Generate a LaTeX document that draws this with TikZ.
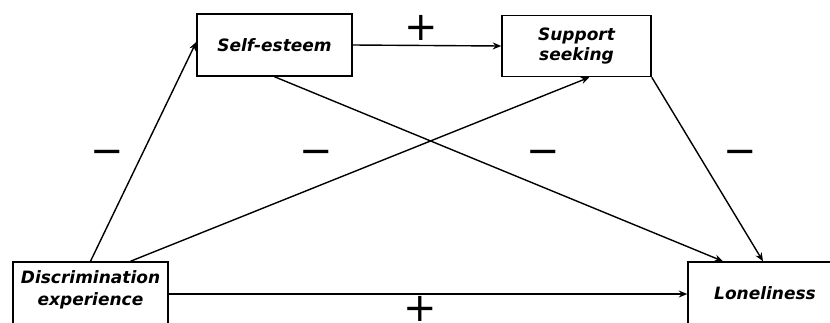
\documentclass[tikz,border=0pt]{standalone}
\usepackage{fontspec}
\setmainfont{DejaVu Sans}
\usetikzlibrary{arrows.meta}
\begin{document}
\begin{tikzpicture}[x=1pt,y=-1pt,
  box/.style={draw,line width=1.5pt,rectangle,inner sep=0pt,align=center,
    font=\fontsize{17}{20}\selectfont\bfseries\itshape},
  lbl/.style={font=\fontsize{17}{22}\selectfont\bfseries\itshape,align=center,inner sep=0pt},
  conn/.style={line width=1.4pt,-{Stealth[length=8.5pt,width=7pt]}},
  sign/.style={font=\fontsize{40}{40}\selectfont,inner sep=0pt}]
\useasboundingbox (0,0) rectangle (830,322);
\fill[white] (0,0) rectangle (830,322);
\node[box,minimum width=155pt,minimum height=62pt] (se) at (274.5,45) {Self-esteem};
\node[box,minimum width=149pt,minimum height=61pt] (ss) at (576.5,46) {Support\\seeking};
\node[box,minimum width=155pt,minimum height=64pt] (de) at (90.5,294) {};
\node[lbl] (det) at (90.5,290) {Discrimination\\experience};
\node[box,minimum width=150pt,minimum height=64pt] (lo) at (763,294) {};
\node[lbl] (lot) at (765,293) {Loneliness};
\draw[conn] (de.north) -- ([yshift=3]se.west);
\draw[conn] ([xshift=40]de.north) -- ([xshift=13]ss.south);
\draw[conn] (se.south) -- ([xshift=-40]lo.north);
\draw[conn] (ss.south east) -- (lo.north);
\draw[conn] (se.east) -- (ss.west);
\draw[conn] (de.east) -- (lo.west);
\node[sign] (p1) at (421,28) {+};
\node[sign] (p2) at (420,309) {+};
\node[sign] (m1) at (107,157) {−};
\node[sign] (m2) at (316,157) {−};
\node[sign] (m3) at (543,157) {−};
\node[sign] (m4) at (740,157) {−};
\end{tikzpicture}
\end{document}
